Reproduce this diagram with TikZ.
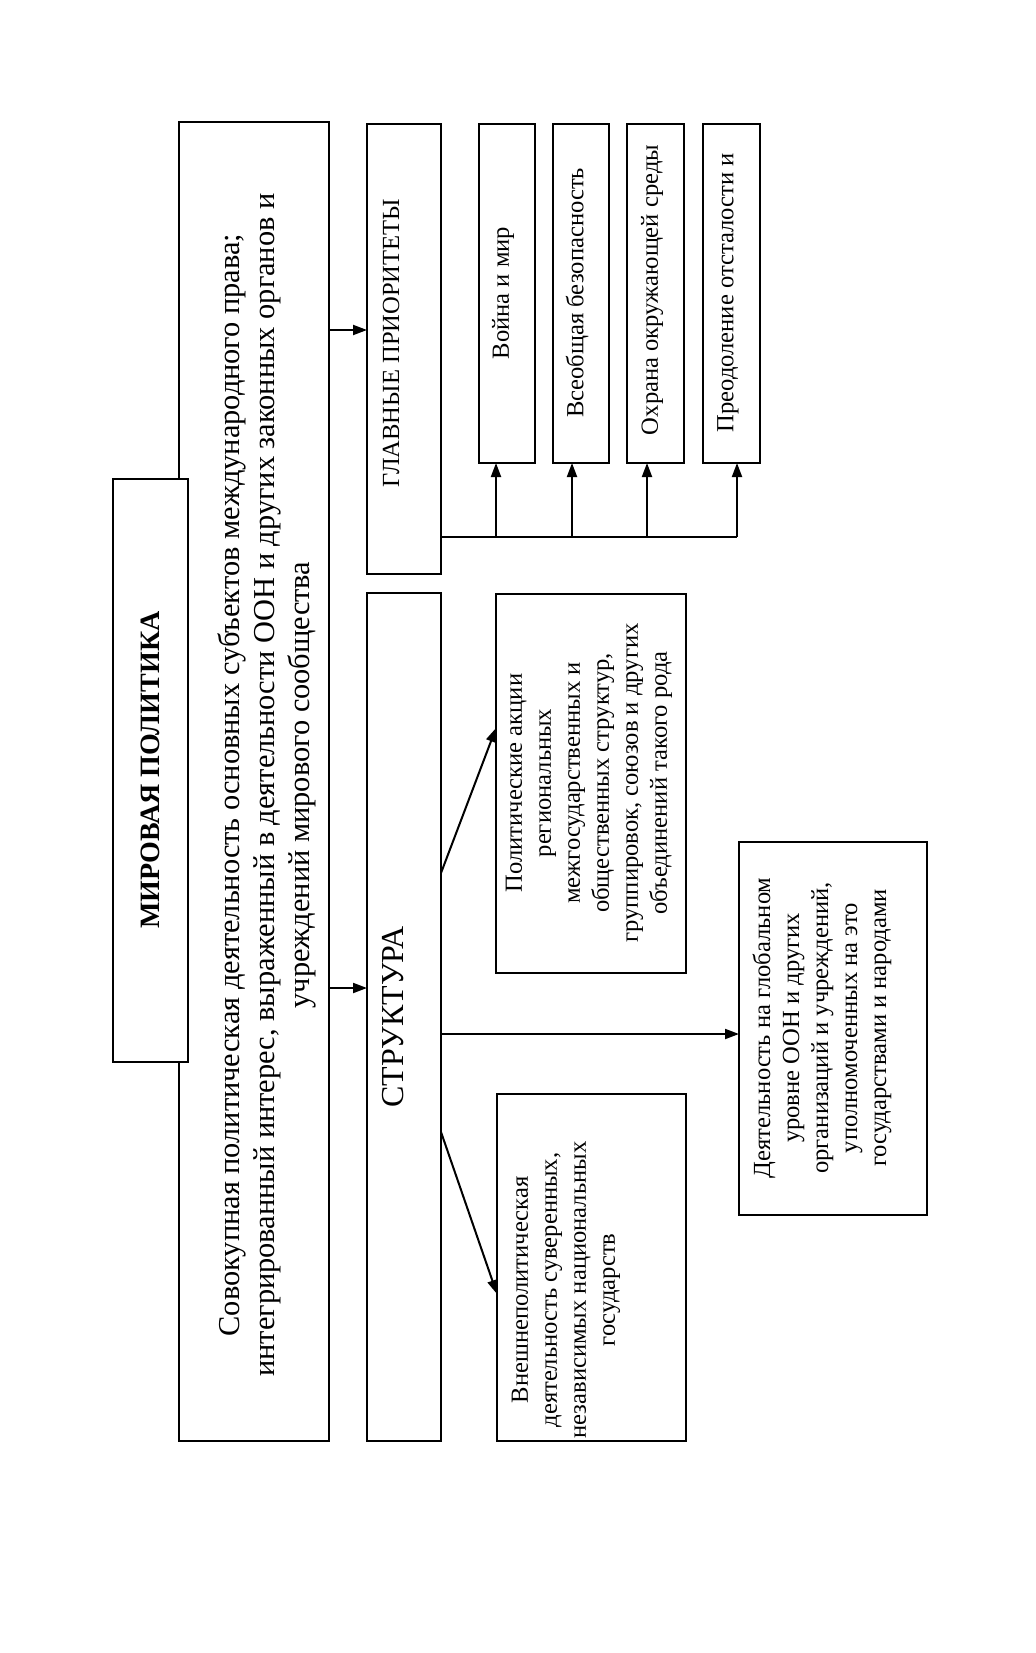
\documentclass[tikz,border=0pt]{standalone}
\usepackage{fontspec}
\setmainfont{Liberation Serif}
\usetikzlibrary{arrows.meta,calc}
\begin{document}
\begin{tikzpicture}[x=0.5pt,y=-0.5pt,
  box/.style={draw, line width=1.3pt, fill=white, inner sep=0pt, outer sep=0pt},
  arr/.style={line width=1pt, -{Triangle[length=7pt,width=5pt]}},
  ln/.style={line width=1pt},
  vtext/.style={rotate=90, inner sep=0pt, align=center},
  small/.style={vtext, font=\fontsize{12.3}{14.5}\selectfont}]
\useasboundingbox (0,0) rectangle (1035,1653);
% boxes
\node[box, minimum width=75pt, minimum height=659.5pt] (big) at (254,781.5) {};
\node[box, minimum width=37.5pt, minimum height=291.5pt] (title) at (150.5,770.5) {};
\node[box, minimum width=37pt, minimum height=225pt] (gp) at (404,349) {};
\node[box, minimum width=37pt, minimum height=424pt] (str) at (404,1017) {};
\node[box, minimum width=28pt, minimum height=169.5pt] (p1) at (507,293.5) {};
\node[box, minimum width=28pt, minimum height=169.5pt] (p2) at (581,293.5) {};
\node[box, minimum width=28.5pt, minimum height=169.5pt] (p3) at (655.5,293.5) {};
\node[box, minimum width=28.5pt, minimum height=169.5pt] (p4) at (731.5,293.5) {};
\node[box, minimum width=95pt, minimum height=189.5pt] (polit) at (591,783.5) {};
\node[box, minimum width=94.5pt, minimum height=173.5pt] (vnesh) at (591.5,1267.5) {};
\node[box, minimum width=94pt, minimum height=186.5pt] (deyat) at (833,1028.5) {};
% texts
\node[vtext, font=\fontsize{14}{16}\selectfont\bfseries] (titlet) at (150,770) {МИРОВАЯ ПОЛИТИКА};
\node[vtext, font=\fontsize{15.2}{17.5}\selectfont] (bigt) at (267,785) {Совокупная политическая деятельность основных субъектов международного права;\\ интегрированный интерес, выраженный в деятельности ООН и других законных органов и\\ учреждений мирового сообщества};
\node[vtext, font=\fontsize{12.3}{14}\selectfont] (gpt) at (391,343) {ГЛАВНЫЕ ПРИОРИТЕТЫ};
\node[vtext, font=\fontsize{16}{18}\selectfont] (strt) at (393,1017) {СТРУКТУРА};
\node[small] (p1t) at (503,293) {Война и мир};
\node[small] (p2t) at (577,293) {Всеобщая безопасность};
\node[small] (p3t) at (652,290) {Охрана окружающей среды};
\node[small] (p4t) at (728,293) {Преодоление отсталости и};
\node[small] (politt) at (589,783) {Политические акции\\ региональных\\ межгосударственных и\\ общественных структур,\\ группировок, союзов и других\\ объединений такого рода};
\node[small] (vnesht) at (566,1290) {Внешнеполитическая\\ деятельность суверенных,\\ независимых национальных\\ государств};
\node[small] (deyatt) at (822,1028) {Деятельность на глобальном\\ уровне ООН и других\\ организаций и учреждений,\\ уполномоченных на это\\ государствами и народами};
% connectors
\coordinate (r1) at (0,330);
\coordinate (r2) at (0,988);
\draw[arr] (big.east |- r1) -- (gp.west |- r1);
\draw[arr] (big.east |- r2) -- (str.west |- r2);
\coordinate (busend) at (737,537);
\coordinate (a1) at (496,537);
\coordinate (a2) at (572,537);
\coordinate (a3) at (647,537);
\draw[ln] (gp.east |- busend) -- (busend);
\draw[arr] (a1) -- (p1.south -| a1);
\draw[arr] (a2) -- (p2.south -| a2);
\draw[arr] (a3) -- (p3.south -| a3);
\draw[arr] (busend) -- (p4.south -| busend);
\coordinate (s1) at (0,873);
\coordinate (t1) at (0,728);
\coordinate (s2) at (0,1034);
\coordinate (s3) at (0,1132);
\coordinate (t3) at (0,1294);
\draw[arr] (str.east |- s1) -- (polit.west |- t1);
\draw[arr] (str.east |- s2) -- (deyat.west |- s2);
\draw[arr] (str.east |- s3) -- (vnesh.west |- t3);
\end{tikzpicture}
\end{document}
